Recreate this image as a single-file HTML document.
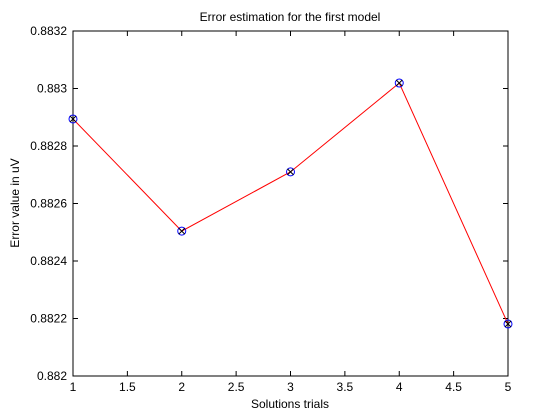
<!DOCTYPE html>
<html><head><meta charset="utf-8"><style>
html,body{margin:0;padding:0;background:#fff;}
svg{display:block;font-family:"Liberation Sans",Arial,sans-serif;}
</style></head><body>
<svg id="chart" width="560" height="420" xmlns="http://www.w3.org/2000/svg">
<rect width="560" height="420" fill="#fff"/>
<text x="290" y="21" font-size="12" text-anchor="middle">Error estimation for the first model</text>
<text x="290" y="408" font-size="12" text-anchor="middle">Solutions trials</text>
<text transform="translate(19,203) rotate(-90)" font-size="12" text-anchor="middle">Error value in uV</text>
<g id="axes"></g>
<g id="series"></g>
</svg>
<script>
const xValues = [1, 2, 3, 4, 5];
const yValues = [0.882894, 0.882504, 0.88271, 0.883019, 0.882181];
const xTicks = [1, 1.5, 2, 2.5, 3, 3.5, 4, 4.5, 5];
const xTickLabels = ["1","1.5","2","2.5","3","3.5","4","4.5","5"];
const yTicks = [0.882, 0.8822, 0.8824, 0.8826, 0.8828, 0.883, 0.8832];
const yTickLabels = ["0.882","0.8822","0.8824","0.8826","0.8828","0.883","0.8832"];

const L=73,R=508,T=31,B=376;
const xMin=1,xMax=5,yMin=0.882,yMax=0.8832;
const sx=v=>L+(v-xMin)/(xMax-xMin)*(R-L);
const sy=v=>B-(v-yMin)/(yMax-yMin)*(B-T);
const NS="http://www.w3.org/2000/svg";
function mk(tag,attrs,parent){const e=document.createElementNS(NS,tag);for(const k in attrs)e.setAttribute(k,attrs[k]);parent.appendChild(e);return e;}
const ax=document.getElementById('axes');
const box=mk('rect',{x:L,y:T,width:R-L,height:B-T,fill:'none',stroke:'#000','stroke-width':1},ax);


xTicks.forEach((v,i)=>{
  const x=sx(v);
  const t1=mk('line',{x1:x,y1:B,x2:x,y2:B-5,stroke:'#000'},ax);
  
  
  const t2=mk('line',{x1:x,y1:T,x2:x,y2:T+5,stroke:'#000'},ax);
  
  
  const tx=mk('text',{x:x,y:B+15,'font-size':12,'text-anchor':'middle'},ax);
  tx.textContent=xTickLabels[i];
  
  
});
yTicks.forEach((v,i)=>{
  const y=sy(v);
  const t1=mk('line',{x1:L,y1:y,x2:L+5,y2:y,stroke:'#000'},ax);
  
  
  const t2=mk('line',{x1:R,y1:y,x2:R-5,y2:y,stroke:'#000'},ax);
  
  
  const tx=mk('text',{x:L-6,y:y+4,'font-size':12,'text-anchor':'end'},ax);
  tx.textContent=yTickLabels[i];
  
  
});
const sg=document.getElementById('series');
const pts=xValues.map((x,i)=>sx(x)+','+sy(yValues[i])).join(' ');
const pl=mk('polyline',{points:pts,fill:'none',stroke:'#ff0000','stroke-width':1},sg);


xValues.forEach((x,i)=>{
  const cx=sx(x),cy=sy(yValues[i]);
  const g=mk('g',{},sg);
  
  
  mk('circle',{cx:cx,cy:cy,r:4,fill:'none',stroke:'#0000ff','stroke-width':1},g);
  mk('line',{x1:cx-3,y1:cy-3,x2:cx+3,y2:cy+3,stroke:'#000'},g);
  mk('line',{x1:cx-3,y1:cy+3,x2:cx+3,y2:cy-3,stroke:'#000'},g);
});
</script>
</body></html>
